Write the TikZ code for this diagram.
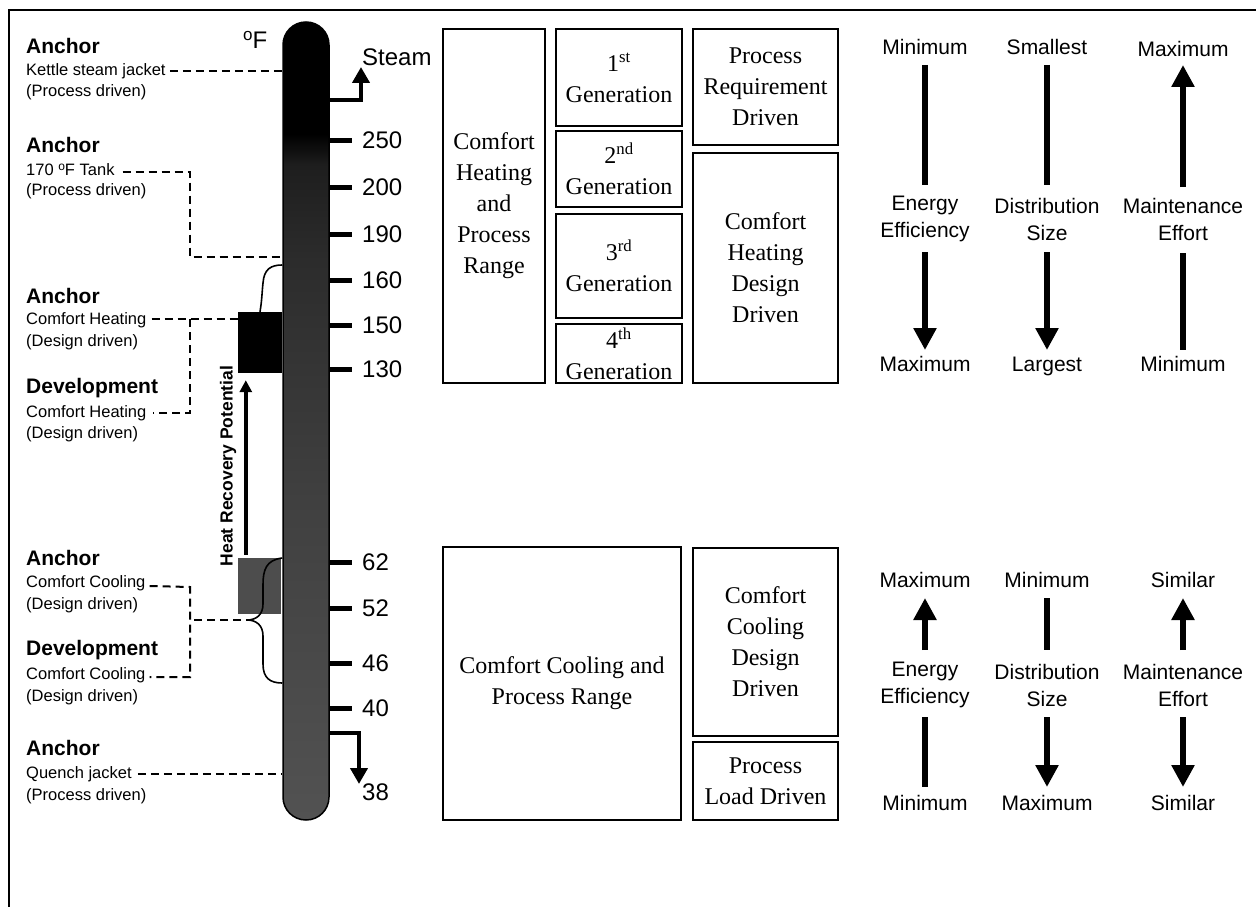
\documentclass[tikz,border=0pt]{standalone}
\usepackage{fontspec}
\setmainfont{Liberation Serif}
\setsansfont{Liberation Sans}
\usetikzlibrary{arrows.meta,calc}
\definecolor{tA}{HTML}{525252}
\definecolor{tB}{HTML}{404040}
\definecolor{tC}{HTML}{2C2C2C}
\definecolor{tD}{HTML}{1E1E1E}
\definecolor{coolbox}{HTML}{4D4D4D}
\pgfdeclareverticalshading{thermo}{100bp}{color(0bp)=(tA); color(25bp)=(tA); color(45bp)=(tB); color(60bp)=(tC); color(66bp)=(tD); color(68bp)=(black); color(100bp)=(black)}
\tikzset{
  hd/.style={font=\sffamily\bfseries\fontsize{21}{21}\selectfont, anchor=west, inner sep=0},
  lab/.style={font=\sffamily\fontsize{16.5}{16.5}\selectfont, anchor=west, inner sep=0},
  num/.style={font=\sffamily\fontsize{24}{24}\selectfont, anchor=west, inner sep=0},
  dsh/.style={line width=2pt, dash pattern=on 8pt off 5pt},
  tick/.style={line width=5pt},
  pipe/.style={line width=4.5pt, -{Triangle[width=17pt,length=16pt]}},
  hr/.style={line width=3.5pt, -{Triangle[width=12pt,length=12pt]}},
  brc/.style={line width=1.6pt},
  box/.style={draw, line width=1.2pt, inner sep=0, align=center, font=\fontsize{24}{31}\selectfont},
  rt/.style={font=\sffamily\fontsize{21}{27}\selectfont, align=center, inner sep=0},
  rtone/.style={font=\sffamily\fontsize{21}{27}\selectfont, inner sep=0, text height=15pt, text depth=1pt},
  shaft/.style={line width=6pt},
  arr/.style={line width=6pt, -{Triangle[width=22pt,length=22pt]}}
}
\begin{document}
\begin{tikzpicture}[x=1pt,y=-1pt]
\useasboundingbox (0,0) rectangle (1256,907);
\fill[white] (0,0) rectangle (1256,907);
% frame
\draw[line width=1.5pt] (9,907) -- (9,10) -- (1256,10);

% thermometer
\node[draw=black, line width=1.5pt, shade, shading=thermo, rounded corners=22.9pt,
      minimum width=46pt, minimum height=798pt, inner sep=0] (th) at (306,421) {};

% degree label and steam
\node[num] (degF) at (243,40) {\raisebox{0.35em}{\fontsize{17}{17}\selectfont o}F};
\node[num] (steam) at (362,57) {Steam};
\coordinate (sy) at (0,100);
\coordinate (stip) at (361,67);
\draw[pipe] (th.east |- sy) -| (stip);

% ticks and numbers
\foreach \v/\yy in {250/140,200/187,190/234,160/280,150/325,130/369,62/562,52/608,46/663,40/708}{
  \node[num] (n\v) at (362,\yy) {\v};
  \draw[tick] (th.east |- n\v.west) -- ($(n\v.west)+(-10,0)$);
}
\node[num] (n38) at (362,792) {38};
\coordinate (qy) at (0,733);
\coordinate (qtip) at (359,784);
\draw[pipe] (th.east |- qy) -| (qtip);

% left labels
\node[hd]  (a1)  at (26,46)  {Anchor};
\node[lab] (k1)  at (26,71)  {Kettle steam jacket};
\node[lab] (k2)  at (26,92)  {(Process driven)};
\draw[dsh] ($(k1.east)+(4,0)$) -- (k1.east -| th.west);

\node[hd]  (a2)  at (26,145) {Anchor};
\node[lab] (t1)  at (26,170) {170 \raisebox{0.3em}{\fontsize{12}{12}\selectfont o}F Tank};
\node[lab] (t2)  at (26,191) {(Process driven)};
\coordinate (tk1) at (190,172);
\coordinate (tk2) at (190,257);
\draw[dsh] ($(t1.east)+(8,2)$) -- (tk1) -- (tk2) -- (tk2 -| th.west);

% heating boxes
\node[fill=black, minimum width=44pt, minimum height=61pt, inner sep=0] (hb) at (260,342.5) {};
\node[fill=coolbox, minimum width=43pt, minimum height=56pt, inner sep=0] (cb) at (259.5,586) {};

\node[hd]  (a3)  at (26,296) {Anchor};
\node[lab] (h1)  at (26,320) {Comfort Heating};
\node[lab] (h2)  at (26,342) {(Design driven)};
\node[hd]  (d3)  at (26,388) {Development};
\node[lab] (h3)  at (26,413) {Comfort Heating};
\node[lab] (h4)  at (26,434) {(Design driven)};
\coordinate (hv1) at (190,319);
\coordinate (hv2) at (190,413);
\draw[dsh] ($(h1.east)+(5,-1)$) -- (hv1 -| hb.west);
\draw[dsh] (hv1) -- (hv2) -- ($(h3.east)+(6,0)$);

% upper brace
\draw[brc] (hb.north) .. controls (262,300) and (262,292) .. (263,283)
           .. controls (264,269) and (271,265) .. (th.west |- 0,265);

% heat recovery potential
\node[rotate=90, font=\sffamily\bfseries\fontsize{17.5}{17.5}\selectfont, inner sep=0] (hrp) at (228,466) {Heat Recovery Potential};
\draw[hr] ($(cb.north west)+(8,-3)$) -- ($(hb.south west)+(8,7)$);

% cooling
\node[hd]  (a4)  at (26,558) {Anchor};
\node[lab] (c1)  at (26,583) {Comfort Cooling};
\node[lab] (c2)  at (26,605) {(Design driven)};
\node[hd]  (d4)  at (26,650) {Development};
\node[lab] (c3)  at (26,675) {Comfort Cooling};
\node[lab] (c4)  at (26,697) {(Design driven)};
\coordinate (cv1) at (190,587);
\coordinate (cv2) at (190,677);
\coordinate (cvm) at (194,620);
\coordinate (btip) at (247,620);
\draw[dsh] ($(c1.east)+(4,3)$) -- (cv1) -- (cv2) -- ($(c3.east)+(4,2)$);
\draw[dsh] (cvm) -- (btip);

% lower brace
\draw[brc] (th.west |- 0,558) .. controls (266,560) and (263,570) .. (263,585)
   -- (263,604) .. controls (263,615) and (256,620) .. (btip)
   .. controls (256,620) and (263,625) .. (263,636)
   -- (263,664) .. controls (263,678) and (270,683) .. (th.west |- 0,683);

% quench
\node[hd]  (a5)  at (26,748) {Anchor};
\node[lab] (q1)  at (26,774) {Quench jacket};
\node[lab] (q2)  at (26,796) {(Process driven)};
\draw[dsh] ($(q1.east)+(6,0)$) -- (q1.east -| th.west);

% middle serif boxes (heating)
\node[box, minimum width=102pt, minimum height=354pt] (chp) at (494,206)
  {Comfort\\Heating\\and\\Process\\Range};
\node[box, minimum width=126pt, minimum height=97pt] (g1) at (619,77.5)
  {1\textsuperscript{st}\\Generation};
\node[box, minimum width=126pt, minimum height=76pt] (g2) at (619,169)
  {2\textsuperscript{nd}\\Generation};
\node[box, minimum width=126pt, minimum height=104pt] (g3) at (619,266)
  {3\textsuperscript{rd}\\Generation};
\node[box, minimum width=126pt, minimum height=59pt] (g4) at (619,353.5)
  {4\textsuperscript{th}\\Generation};
\node[box, minimum width=145pt, minimum height=116pt] (prd) at (765.5,87)
  {Process\\Requirement\\Driven};
\node[box, minimum width=145pt, minimum height=230pt] (chd) at (765.5,268)
  {Comfort\\Heating\\Design\\Driven};

% middle serif boxes (cooling)
\node[box, minimum width=238pt, minimum height=273pt] (ccp) at (562,683.5)
  {Comfort Cooling and\\Process Range};
\node[box, minimum width=145pt, minimum height=188pt] (ccd) at (765.5,642)
  {Comfort\\Cooling\\Design\\Driven};
\node[box, minimum width=145pt, minimum height=78pt] (pld) at (765.5,781)
  {Process\\Load Driven};

% right columns top
\node[rtone] (u1t) at (925,48)  {Minimum};
\node[rt]    (u1m) at (925,219) {Energy\\Efficiency};
\node[rtone] (u1b) at (925,364) {Maximum};
\node[rtone] (u2t) at (1047,48)  {Smallest};
\node[rt]    (u2m) at (1047,219) {Distribution\\Size};
\node[rtone] (u2b) at (1047,364) {Largest};
\node[rtone] (u3t) at (1183,50)  {Maximum};
\node[rt]    (u3m) at (1183,219) {Maintenance\\Effort};
\node[rtone] (u3b) at (1183,364) {Minimum};

\draw[shaft] ($(u1t)+(0,17)$) -- ($(u1m)+(0,-34)$);
\draw[arr]   ($(u1m)+(0,33)$) -- ($(u1b)+(0,-14)$);
\draw[shaft] ($(u2t)+(0,17)$) -- ($(u2m)+(0,-34)$);
\draw[arr]   ($(u2m)+(0,33)$) -- ($(u2b)+(0,-14)$);
\draw[arr]   ($(u3m)+(0,-32)$) -- ($(u3t)+(0,15)$);
\draw[shaft] ($(u3m)+(0,34)$) -- ($(u3b)+(0,-14)$);

% right columns bottom
\node[rtone] (l1t) at (925,580)  {Maximum};
\node[rt]    (l1m) at (925,685)  {Energy\\Efficiency};
\node[rtone] (l1b) at (925,803)  {Minimum};
\node[rtone] (l2t) at (1047,580) {Minimum};
\node[rt]    (l2m) at (1047,685) {Distribution\\Size};
\node[rtone] (l2b) at (1047,803) {Maximum};
\node[rtone] (l3t) at (1183,580) {Similar};
\node[rt]    (l3m) at (1183,685) {Maintenance\\Effort};
\node[rtone] (l3b) at (1183,803) {Similar};

\draw[arr]   ($(l1m)+(0,-35)$) -- ($(l1t)+(0,18)$);
\draw[shaft] ($(l1m)+(0,32)$) -- ($(l1b)+(0,-16)$);
\draw[shaft] ($(l2t)+(0,18)$) -- ($(l2m)+(0,-35)$);
\draw[arr]   ($(l2m)+(0,32)$) -- ($(l2b)+(0,-16)$);
\draw[arr]   ($(l3m)+(0,-35)$) -- ($(l3t)+(0,18)$);
\draw[arr]   ($(l3m)+(0,32)$) -- ($(l3b)+(0,-16)$);
\end{tikzpicture}
\end{document}
